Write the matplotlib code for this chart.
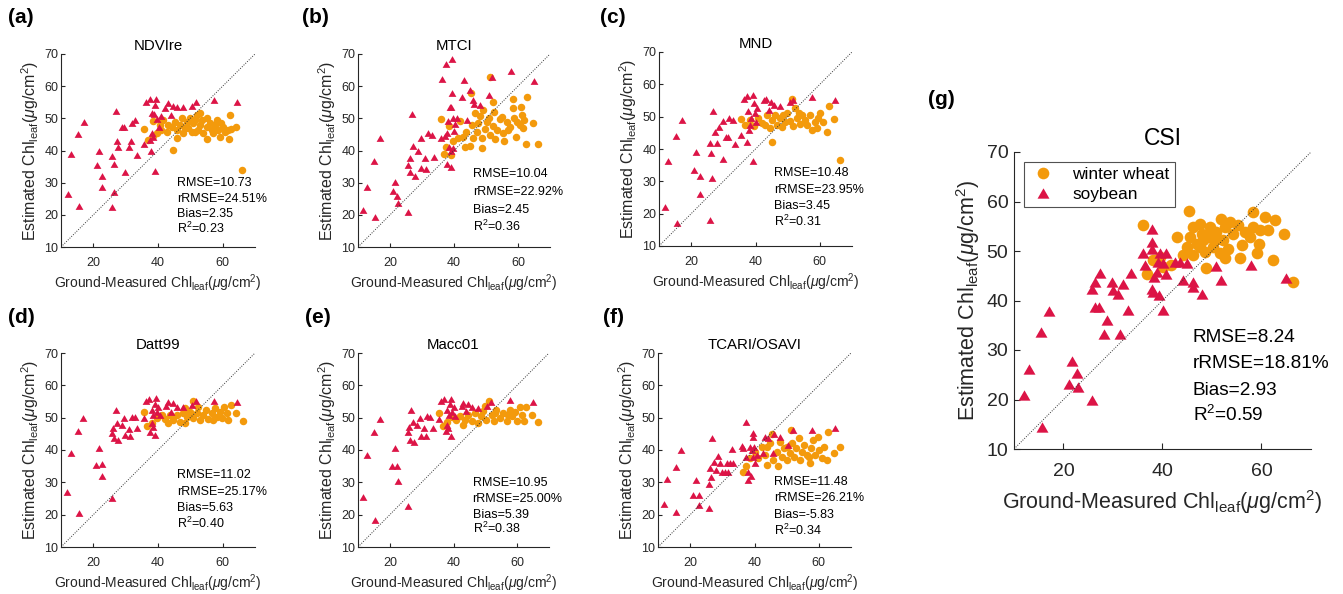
import matplotlib
matplotlib.use("Agg")
import matplotlib.pyplot as plt

plt.rcParams['font.family'] = ['Liberation Sans', 'DejaVu Sans']
plt.rcParams['mathtext.fontset'] = 'custom'
plt.rcParams['mathtext.rm'] = 'Liberation Sans'
plt.rcParams['mathtext.it'] = 'Liberation Sans:italic'
plt.rcParams['mathtext.bf'] = 'Liberation Sans:bold'

# ---------------- data ----------------
titles = ["NDVIre", "MTCI", "MND", "Datt99", "Macc01", "TCARI/OSAVI", "CSI"]
panel_letters = ["(a)", "(b)", "(c)", "(d)", "(e)", "(f)", "(g)"]
series_names = ["winter wheat", "soybean"]

stats_a = ["RMSE=10.73", "rRMSE=24.51%", "Bias=2.35", "R$^2$=0.23"]
stats_b = ["RMSE=10.04", "rRMSE=22.92%", "Bias=2.45", "R$^2$=0.36"]
stats_c = ["RMSE=10.48", "rRMSE=23.95%", "Bias=3.45", "R$^2$=0.31"]
stats_d = ["RMSE=11.02", "rRMSE=25.17%", "Bias=5.63", "R$^2$=0.40"]
stats_e = ["RMSE=10.95", "rRMSE=25.00%", "Bias=5.39", "R$^2$=0.38"]
stats_f = ["RMSE=11.48", "rRMSE=26.21%", "Bias=-5.83", "R$^2$=0.34"]
stats_g = ["RMSE=8.24", "rRMSE=18.81%", "Bias=2.93", "R$^2$=0.59"]

x_ticks = [20, 40, 60]
y_ticks = [10, 20, 30, 40, 50, 60, 70]

# (a) NDVIre
a_soy_x = [12.1,13.1,15.4,15.7,17.1,21.0,21.8,22.7,22.8,25.8,25.8,26.4,26.5,27.0,27.2,27.7,28.9,29.6,29.9,30.9,31.5,32.1,33.0,33.5,35.7,36.2,37.4,37.5,38.0,37.7,38.0,38.6,38.9,39.4,39.2,39.1,39.8,40.2,40.8,42.3,43.2,43.9,44.7,45.8,47.8,50.4,51.8,57.4,64.5]
a_soy_y = [26.5,38.9,45.2,22.8,49.0,35.5,40.0,32.2,28.5,22.3,38.3,35.7,27.1,52.3,42.8,41.2,47.3,47.3,33.3,41.2,43.0,48.7,49.5,38.6,42.0,55.2,56.1,43.3,51.6,39.7,45.4,44.3,51.3,55.9,54.2,33.7,49.7,47.4,50.7,53.1,54.7,51.1,53.8,53.4,53.4,53.8,55.2,55.7,55.0]
a_wht_x = [35.8,37.0,38.6,39.6,40.6,41.6,43.2,44.7,45.3,45.8,46.8,47.8,48.9,49.4,50.4,50.9,52.0,52.5,53.0,54.0,55.1,55.3,56.6,57.6,58.1,58.7,59.2,60.0,60.7,61.8,62.3,62.1,64.1,66.1,42.7,44.2,47.3,48.4,49.9,51.4,53.5,56.0,57.1,53.0,38.5,41.0,46.0,51.5,55.0,59.5,62.5]
a_wht_y = [46.7,43.3,49.3,45.4,48.0,49.5,48.0,40.2,49.0,46.4,48.0,45.4,49.0,46.9,45.9,48.5,51.1,46.4,48.0,45.4,47.4,43.5,46.4,48.0,49.5,46.4,44.3,47.4,45.9,46.4,51.1,43.5,47.4,34.0,45.9,47.4,50.0,46.9,50.0,45.9,49.5,48.5,45.4,51.6,44.5,46.5,44.0,49.5,50.0,48.5,46.8]

# (b) MTCI
b_soy_x = [11.6,12.8,15.0,15.4,16.8,20.8,21.6,22.3,22.6,25.5,25.7,26.2,26.4,26.9,27.2,27.8,28.8,29.6,29.8,30.9,31.2,31.9,33.0,33.7,35.8,36.4,37.1,37.5,37.7,37.7,38.2,38.3,38.7,39.0,39.2,39.3,39.4,39.2,39.7,40.0,40.3,39.7,41.0,42.4,43.2,44.2,45.0,45.8,46.2,48.1,50.9,51.8,57.7,65.1]
b_soy_y = [21.6,28.6,36.6,19.3,43.8,27.3,30.1,26.0,23.7,20.9,35.5,37.6,33.3,51.4,41.5,32.1,39.7,44.0,34.5,37.6,34.2,45.4,44.9,37.9,43.8,62.2,44.6,66.9,45.4,35.9,49.3,41.2,53.6,39.7,35.0,58.0,68.6,53.6,50.0,46.2,48.2,40.9,50.0,56.5,61.9,49.5,58.8,55.7,54.4,54.2,57.3,62.7,64.8,61.7]
b_wht_x = [35.8,36.8,37.5,38.5,39.0,39.7,41.3,42.0,42.9,43.4,43.9,45.0,45.3,45.5,46.0,46.5,47.1,47.6,48.1,48.6,48.9,49.7,50.2,51.0,51.2,51.4,52.1,52.3,52.5,52.8,53.5,54.4,54.9,55.4,55.7,56.5,57.5,58.3,58.5,58.7,59.4,59.8,60.6,60.8,61.1,61.7,62.0,62.5,62.9,64.8,66.4,57.0,49.1]
b_wht_y = [49.8,39.0,41.2,47.6,38.6,42.8,43.8,49.3,44.3,41.2,45.9,41.4,58.0,48.0,43.8,51.6,45.9,48.5,50.7,40.7,43.8,46.6,49.0,50.0,44.9,62.9,47.6,55.2,52.1,43.5,46.4,49.7,50.5,45.4,43.1,49.0,47.4,53.1,55.9,50.0,44.1,49.0,48.0,53.6,51.1,46.9,49.5,42.1,56.7,48.5,42.1,46.4,52.6]

# (c) MND
c_soy_x = [11.9,12.9,15.5,15.3,17.1,21.0,21.5,22.6,22.8,25.7,25.7,26.2,26.4,26.9,27.3,27.9,28.5,29.8,29.8,30.8,31.3,31.9,33.0,33.5,35.5,36.3,37.3,37.5,37.8,38.1,38.3,38.7,39.2,39.4,39.2,39.9,40.1,40.4,42.5,43.3,44.1,44.8,45.6,47.7,50.6,51.8,57.6,64.8]
c_soy_y = [22.2,36.4,17.0,44.1,49.0,33.6,39.0,31.5,26.1,18.1,41.8,38.7,31.0,51.6,45.4,41.8,46.8,48.8,36.9,43.6,43.6,49.6,49.0,41.6,44.4,55.5,56.3,42.1,51.6,46.0,47.5,49.6,56.8,54.2,36.3,51.1,48.5,52.7,55.2,55.5,52.1,54.4,53.7,53.4,54.4,55.2,56.1,55.0]
c_wht_x = [35.5,36.8,38.3,39.4,40.9,42.0,43.5,44.4,45.1,45.1,46.1,46.7,47.7,48.2,49.3,49.8,50.8,51.3,51.8,52.4,52.9,53.9,54.4,55.5,55.9,57.0,57.6,58.6,59.1,59.3,60.2,61.0,62.2,62.8,64.5,66.4,43.0,48.7,53.4]
c_wht_y = [49.3,47.5,49.0,47.0,49.6,48.0,50.6,46.5,49.0,42.3,50.6,47.5,49.6,46.8,48.5,51.1,48.8,55.6,47.0,52.7,49.6,47.8,50.6,49.0,47.5,50.6,45.9,48.5,46.5,49.6,51.1,48.5,45.4,53.2,49.3,36.7,47.5,50.6,51.1]

# (d) Datt99
d_soy_x = [12.0,13.0,15.3,15.6,16.9,20.8,21.7,22.7,22.8,25.7,25.8,26.2,26.4,27.0,27.2,27.7,28.8,29.6,29.9,30.9,31.3,32.0,32.9,33.6,35.7,36.3,37.3,37.5,38.0,38.0,38.4,38.6,39.1,39.4,39.1,39.6,40.1,40.6,42.5,43.2,43.9,44.7,45.8,47.8,50.4,51.8,57.4,64.5]
d_soy_y = [26.9,39.2,46.0,20.5,49.8,35.5,40.7,35.6,31.9,25.2,45.4,46.7,43.8,52.4,48.5,43.1,47.7,49.8,44.6,46.5,44.3,50.3,50.3,46.9,49.8,55.0,55.7,45.5,52.4,48.5,47.2,50.8,54.2,56.0,44.6,51.6,53.2,50.8,53.6,54.7,51.9,54.5,53.4,53.2,53.9,55.0,55.3,54.8]
d_wht_x = [35.8,36.5,38.0,39.6,41.1,42.2,43.7,44.7,45.8,46.8,47.6,48.4,48.9,49.9,50.7,50.9,52.0,53.0,54.0,54.8,55.6,56.6,57.6,58.1,59.2,59.7,60.4,61.2,61.8,62.5,64.1,66.2,43.2,52.5,57.1,48.4]
d_wht_y = [51.9,47.4,48.3,49.8,50.8,49.5,50.8,49.3,50.8,48.8,51.4,48.3,50.3,51.9,49.8,55.0,51.4,49.3,50.8,52.4,49.5,51.4,52.9,50.3,51.6,49.8,53.2,51.4,49.3,53.9,51.4,49.1,48.5,53.2,49.3,52.9]

# (e) Macc01
e_soy_x = [11.6,12.8,15.1,15.4,16.8,20.8,21.6,22.4,22.6,25.6,25.6,26.0,26.2,26.7,27.2,27.7,28.6,29.5,29.8,30.8,31.3,31.8,32.7,33.5,35.6,36.1,37.1,37.7,37.9,38.1,38.4,38.7,38.9,39.3,39.1,39.6,40.0,40.5,42.6,43.1,43.9,44.7,45.7,47.8,50.4,51.8,57.7,65.0]
e_soy_y = [25.5,38.6,45.6,18.5,49.6,35.2,40.6,35.2,30.5,22.6,45.6,47.0,43.2,52.3,48.6,42.5,47.8,49.9,44.4,46.8,44.4,50.4,50.2,46.8,49.6,55.1,55.8,45.8,52.5,47.8,46.8,50.9,54.3,55.9,44.4,51.6,53.3,50.6,53.7,54.5,52.0,54.3,53.3,53.0,53.7,54.7,55.4,54.7]
e_wht_x = [35.6,36.6,37.9,39.4,40.8,42.0,43.6,44.7,45.7,46.7,47.8,48.5,49.4,50.2,51.2,52.0,52.7,53.5,54.6,55.6,56.7,57.7,58.5,59.3,59.8,60.8,61.4,62.2,62.9,64.8,66.4,42.9,49.9,57.2,53.0]
e_wht_y = [51.4,47.3,48.6,50.2,49.2,50.6,49.4,50.9,48.9,51.4,48.4,50.4,52.0,49.2,55.1,50.9,48.9,52.5,49.9,51.4,48.9,52.5,50.4,51.6,48.9,53.3,50.9,48.9,53.3,50.9,48.6,47.8,53.5,50.9,51.4]

# (f) TCARI/OSAVI
f_soy_x = [11.8,12.9,15.5,15.7,17.0,20.9,21.7,22.6,22.8,25.7,25.7,26.1,26.4,26.9,27.4,28.0,28.7,29.4,29.8,30.8,31.3,31.8,32.3,32.9,33.4,36.0,36.5,37.3,37.5,38.1,38.1,38.6,38.8,39.1,39.4,39.6,39.6,39.8,40.1,40.7,42.5,43.3,44.3,45.9,46.1,47.9,50.5,52.1,57.8,65.1]
f_soy_y = [23.4,31.0,34.6,20.7,40.0,26.0,30.7,26.0,22.9,22.2,29.6,34.3,31.5,43.6,36.4,33.8,38.1,35.9,33.3,33.3,35.9,33.3,35.9,40.3,35.9,41.2,40.5,48.8,37.9,33.3,30.7,41.0,32.0,40.0,45.2,44.1,37.9,41.0,35.9,38.4,39.0,44.1,43.6,39.2,44.8,44.1,41.5,46.2,46.2,46.7]
f_wht_x = [36.5,37.5,38.6,40.1,41.2,42.2,43.3,43.8,44.8,45.3,45.9,46.9,47.4,47.9,48.5,49.2,50.0,50.9,51.3,51.6,52.3,52.9,53.7,54.2,54.7,55.4,56.3,57.1,57.5,58.3,58.9,59.6,60.2,60.9,61.7,62.5,63.0,64.6,66.5,43.8,50.0,56.9]
f_wht_y = [33.3,34.9,37.4,39.5,37.4,41.0,38.4,35.3,42.1,44.8,36.9,39.5,34.9,42.6,37.9,40.5,36.9,39.0,46.2,42.1,37.9,40.5,43.6,36.9,39.5,41.5,38.4,35.9,40.5,43.1,38.4,44.1,40.0,37.4,41.0,36.9,45.7,39.0,41.0,41.0,41.0,37.9]

# (g) CSI
g_soy_x = [12.0,13.0,15.5,15.6,17.1,21.1,21.8,22.7,22.9,25.8,25.8,26.4,27.3,26.4,27.2,28.1,28.8,29.8,30.0,31.0,31.4,32.0,33.1,33.7,36.0,36.4,37.8,37.8,37.8,37.8,38.1,38.3,38.8,39.1,39.5,40.1,39.3,40.1,40.8,40.8,42.5,43.5,44.2,45.0,46.1,46.2,48.0,50.8,51.9,57.8,65.0]
g_soy_y = [20.9,26.1,33.7,14.5,37.9,23.2,27.8,25.3,22.6,19.9,42.4,43.8,45.6,38.6,38.7,33.2,36.0,43.8,42.1,41.4,33.3,43.4,38.0,45.6,49.5,47.1,54.5,51.8,50.5,42.4,41.7,44.8,45.8,47.8,49.5,47.5,41.1,38.0,49.5,45.4,47.8,47.8,44.1,47.5,43.8,42.8,41.4,46.9,44.1,47.1,44.6]
g_wht_x = [36.0,36.8,38.1,39.5,40.1,41.8,43.0,44.1,44.9,45.4,45.5,46.2,46.2,46.9,47.6,47.6,47.9,48.6,48.8,49.2,49.6,50.3,50.6,50.9,51.6,51.9,52.3,52.6,52.6,53.3,53.6,54.3,55.3,55.7,56.0,56.7,57.7,58.3,58.3,59.0,59.4,59.7,60.7,61.4,62.7,62.4,64.6,66.4,48.2]
g_wht_y = [55.2,45.4,48.1,48.8,46.8,47.1,52.8,49.1,50.8,58.0,52.8,54.9,49.1,51.5,55.5,50.8,53.5,49.8,46.5,52.8,54.9,50.8,52.2,53.8,49.5,56.5,52.2,54.9,48.5,50.5,55.9,53.5,55.2,48.5,51.2,53.8,52.8,57.9,54.9,49.5,51.5,54.2,56.9,54.2,56.2,48.1,53.5,43.8,52.2]

# ---------------- style / layout ----------------
W, H = 1343, 594
ORANGE = '#f39a0c'
RED = '#dc1446'
AXC = '#262626'
TRI = [(-1.0, -0.866), (1.0, -0.866), (0.0, 0.866), (-1.0, -0.866)]  # equilateral triangle

fig = plt.figure(figsize=(W / 100, H / 100), dpi=100)

def px_axes(x0, y0, x1, y1):
    return fig.add_axes([x0 / W, 1 - y1 / H, (x1 - x0) / W, (y1 - y0) / H])

# (pixel boxes, stats x, first-line y, line spacing)
layout = [
    ((61, 54, 255, 247), 45.8, 30.4, 4.9),
    ((358, 54, 550, 247), 46.0, 33.2, 5.6),
    ((659, 52, 852, 246), 45.9, 33.0, 5.1),
    ((61, 353, 255, 547), 45.8, 32.7, 5.1),
    ((358, 353, 549, 547), 46.0, 30.3, 4.9),
    ((658, 353, 851, 547), 46.2, 30.7, 5.2),
    ((1014, 152, 1311, 449), 46.1, 33.0, 5.3),
]
letter_pos = [(8, 8), (302, 8), (600, 8), (8, 308), (305, 308), (603, 308), (928, 90)]

panels = [
    (a_wht_x, a_wht_y, a_soy_x, a_soy_y, stats_a),
    (b_wht_x, b_wht_y, b_soy_x, b_soy_y, stats_b),
    (c_wht_x, c_wht_y, c_soy_x, c_soy_y, stats_c),
    (d_wht_x, d_wht_y, d_soy_x, d_soy_y, stats_d),
    (e_wht_x, e_wht_y, e_soy_x, e_soy_y, stats_e),
    (f_wht_x, f_wht_y, f_soy_x, f_soy_y, stats_f),
    (g_wht_x, g_wht_y, g_soy_x, g_soy_y, stats_g),
]

xlabel = r'Ground-Measured Chl$_{\mathrm{leaf}}$($\mathit{\mu}$g/cm$^2$)'
ylabel = r'Estimated Chl$_{\mathrm{leaf}}$($\mathit{\mu}$g/cm$^2$)'

for i, (wx, wy, sx, sy, stats) in enumerate(panels):
    big = (i == 6)
    box, tx, ty, dy = layout[i]
    ax = px_axes(*box)
    ms_c = 8.4 if big else 5.4
    ms_t = 8.6 if big else 5.6
    tick_fs = 14 if big else 9
    lab_fs_x = 15.5 if big else 10
    lab_fs_y = 15.5 if big else 11.5
    title_fs = 16.5 if big else 10.8
    stat_fs = 13.7 if big else 9

    h1, = ax.plot(wx, wy, 'o', color=ORANGE, ms=ms_c, mec='none', zorder=2)
    h2, = ax.plot(sx, sy, marker=TRI, ls='none', color=RED, ms=ms_t, mec='none', zorder=3)
    ax.plot([10, 70], [10, 70], linestyle=(0, (1, 1.5)), color='#333333', lw=0.7, zorder=4)

    ax.set_xlim(10, 70)
    ax.set_ylim(10, 70)
    ax.set_xticks(x_ticks)
    ax.set_yticks(y_ticks)
    for s in ['top', 'right']:
        ax.spines[s].set_visible(False)
    for s in ['left', 'bottom']:
        ax.spines[s].set_color(AXC)
        ax.spines[s].set_linewidth(0.8)
    ax.tick_params(direction='in', length=3 if not big else 4, width=0.8, colors=AXC,
                   labelsize=tick_fs)
    ax.tick_params(axis='x', pad=7 if not big else 10)
    ax.tick_params(axis='y', pad=2 if not big else 4)
    ax.set_xlabel(xlabel, fontsize=lab_fs_x, color=AXC, labelpad=3 if not big else 6)
    ax.set_ylabel(ylabel, fontsize=lab_fs_y, color=AXC, labelpad=2 if not big else 3)
    ax.set_title(titles[i], fontsize=title_fs, pad=3 if not big else 5)

    for k, line in enumerate(stats):
        ax.text(tx, ty - k * dy - 1.4, line, fontsize=stat_fs, ha='left', va='baseline',
                zorder=5)

    fig.text(letter_pos[i][0] / W, 1 - letter_pos[i][1] / H, panel_letters[i],
             fontsize=15, fontweight='bold', ha='left', va='top')

    if big:
        leg = ax.legend([h1, h2], series_names, loc='upper left',
                        bbox_to_anchor=(0.034, 0.966), borderaxespad=0,
                        fontsize=12.4, frameon=True, fancybox=False,
                        edgecolor=AXC, borderpad=0.3, labelspacing=0.25,
                        handlelength=1.6, handletextpad=0.9)
        leg.get_frame().set_linewidth(0.8)

fig.savefig('out.png', dpi=100)
